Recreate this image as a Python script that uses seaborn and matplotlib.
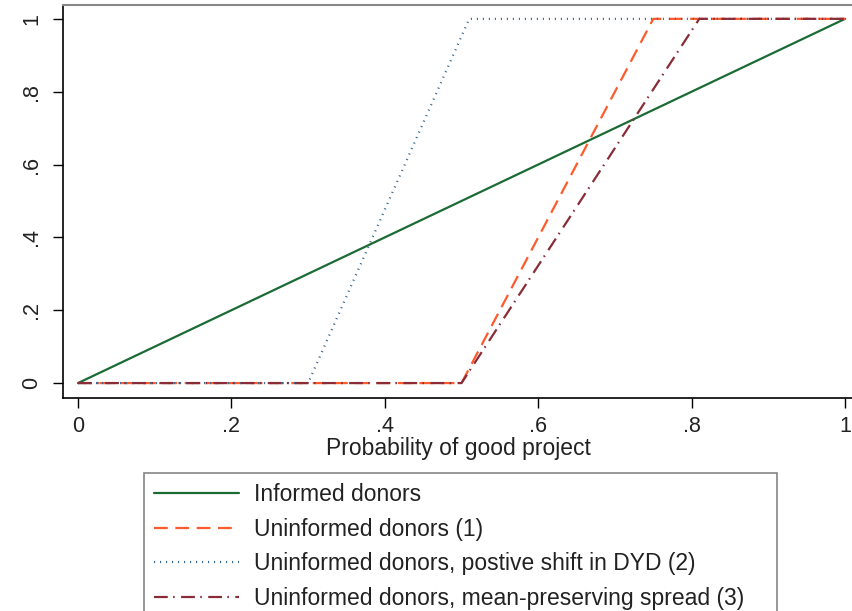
import matplotlib
matplotlib.use("Agg")
import matplotlib.pyplot as plt
import seaborn as sns
import pandas as pd

# Data (x = probability of good project, y = share)
informed_x = [0.0, 1.0]
informed_y = [0.0, 1.0]
unin1_x = [0.0, 0.5, 0.75, 1.0]
unin1_y = [0.0, 0.0, 1.0, 1.0]
unin2_x = [0.0, 0.3, 0.51, 1.0]
unin2_y = [0.0, 0.0, 1.0, 1.0]
unin3_x = [0.0, 0.5, 0.81, 1.0]
unin3_y = [0.0, 0.0, 1.0, 1.0]

labels = ["Informed donors",
          "Uninformed donors (1)",
          "Uninformed donors, postive shift in DYD (2)",
          "Uninformed donors, mean-preserving spread (3)"]
xticks = [0, 0.2, 0.4, 0.6, 0.8, 1.0]
xticklabels = ["0", ".2", ".4", ".6", ".8", "1"]
yticks = [0, 0.2, 0.4, 0.6, 0.8, 1.0]
yticklabels = ["0", ".2", ".4", ".6", ".8", "1"]

sns.set_style("white")
plt.rcParams['font.family'] = ['Liberation Sans', 'DejaVu Sans']
plt.rcParams['text.color'] = '#222222'

fig = plt.figure(figsize=(8.53, 6.11), dpi=100)
ax = fig.add_axes([63/853, 1-398/611, 1-63/853, (398-5)/611])

series = [
    (informed_x, informed_y, "#1b6b35", None),
    (unin1_x, unin1_y, "#ff5a2c", (6.2, 3.4)),
    (unin2_x, unin2_y, "#3a6a94", (0.5, 2.2)),
    (unin3_x, unin3_y, "#8a2c38", (6.2, 2.4, 0.7, 2.9)),
]
handles = []
for (xs, ys, col, dash), lab in zip(series, labels):
    df = pd.DataFrame({"x": xs, "y": ys})
    sns.lineplot(data=df, x="x", y="y", ax=ax, color=col, linewidth=1.6,
                 label=lab, legend=False, estimator=None, sort=False)
    ln = ax.lines[-1]
    if dash is not None:
        ln.set_dashes(dash)
    handles.append(ln)

ax.set_xlim(-0.0196, 1.0104)
ax.set_ylim(-0.041, 1.038)
ax.set_xticks(xticks)
ax.set_xticklabels(xticklabels)
ax.set_yticks(yticks)
ax.set_yticklabels(yticklabels, rotation=90, va='center')
ax.tick_params(axis='both', which='major', direction='out', length=7, width=1,
               color='black', labelsize=15.5, labelcolor='#222222',
               bottom=True, left=True, pad=6)
ax.tick_params(axis='y', pad=8)
ax.set_xlabel("Probability of good project", fontsize=16.5, labelpad=0,
              color='#222222')
ax.set_ylabel("")
for s in ['left', 'bottom']:
    ax.spines[s].set_color('black')
    ax.spines[s].set_linewidth(1.2)
ax.spines['top'].set_color('#888888')
ax.spines['top'].set_linewidth(1.5)
ax.spines['right'].set_visible(False)

leg_x0, leg_x1, leg_top = 144/853, 777/853, 1-473/611
leg = fig.legend(handles=handles, labels=labels, loc='upper left',
                 bbox_to_anchor=(leg_x0, 0.0, leg_x1 - leg_x0, leg_top),
                 mode='expand', borderaxespad=0,
                 fontsize=16.5, handlelength=3.7, handletextpad=0.65,
                 labelspacing=0.5, fancybox=False, frameon=True,
                 borderpad=0.45)
leg.get_frame().set_edgecolor('#666666')
leg.get_frame().set_linewidth(1.2)

fig.savefig("out.png", dpi=100)
